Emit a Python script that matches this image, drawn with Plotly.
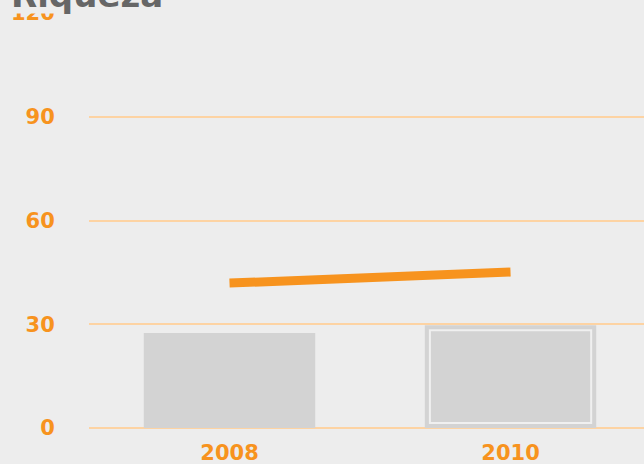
import plotly.graph_objects as go

years = ["2008", "2010"]
bar_values = [27.5, 29.7]
line_values = [41.9, 45.1]
y_ticks = [0, 30, 60, 90, 120]
title_text = "Riqueza"

ORANGE = "#f7931e"
GRID = "#fdd3a3"
BAR = "#d3d3d3"
BG = "#ededed"

# inset highlight on the last bar (in data units, derived from bar value)
inset_y = 1.45
inner_vals = [None, bar_values[1] - 2 * inset_y]
inner_base = [None, inset_y]

fig = go.Figure()
fig.add_trace(go.Bar(x=years, y=bar_values, marker=dict(color=BAR, line=dict(width=0)),
                     width=0.61, showlegend=False, hoverinfo="skip"))
fig.add_trace(go.Bar(x=years, y=inner_vals, base=inner_base, width=0.574,
                     marker=dict(color="rgba(0,0,0,0)", line=dict(color="#f0f0f0", width=2)),
                     showlegend=False, hoverinfo="skip"))
fig.add_trace(go.Scatter(x=years, y=line_values, mode="lines",
                         line=dict(color=ORANGE, width=9), showlegend=False))

fig.update_layout(
    width=644, height=464,
    margin=dict(l=89, r=0, t=13, b=36),
    paper_bgcolor=BG, plot_bgcolor=BG,
    barmode="overlay",
    showlegend=False,
    font=dict(family="DejaVu Sans", color=ORANGE),
)
fig.update_xaxes(type="category", range=[-0.5, 1.475], showgrid=False, zeroline=False,
                 showline=False, ticks="outside", ticklen=6, tickcolor="rgba(0,0,0,0)",
                 automargin=False,
                 tickfont=dict(family="DejaVu Sans", size=21, color=ORANGE, weight="bold"))
fig.update_yaxes(range=[0, 120], tickvals=y_ticks, showgrid=True, gridcolor=GRID, gridwidth=2,
                 zeroline=True, zerolinecolor=GRID, zerolinewidth=2, showline=False,
                 ticks="outside", ticklen=29, tickcolor="rgba(0,0,0,0)", automargin=False,
                 tickfont=dict(family="DejaVu Sans", size=21, color=ORANGE, weight="bold"))

# the title box hides the top half of the uppermost tick label
fig.add_annotation(text=" ", xref="paper", yref="paper", x=0, y=1,
                   xanchor="right", yanchor="bottom", xshift=-10, yshift=-1, showarrow=False,
                   bgcolor=BG, borderpad=0, width=80, height=14,
                   font=dict(family="DejaVu Sans", size=10, color=BG))
fig.add_annotation(text=f"<b>{title_text}</b>", xref="paper", yref="paper", x=0, y=1,
                   xanchor="left", yanchor="bottom", xshift=-79, yshift=-3, showarrow=False,
                   borderpad=0,
                   font=dict(family="DejaVu Sans", size=34, color="#666666"))

fig.write_html("out.html", post_script="document.body.style.margin='0';",
               config={"displayModeBar": False})
